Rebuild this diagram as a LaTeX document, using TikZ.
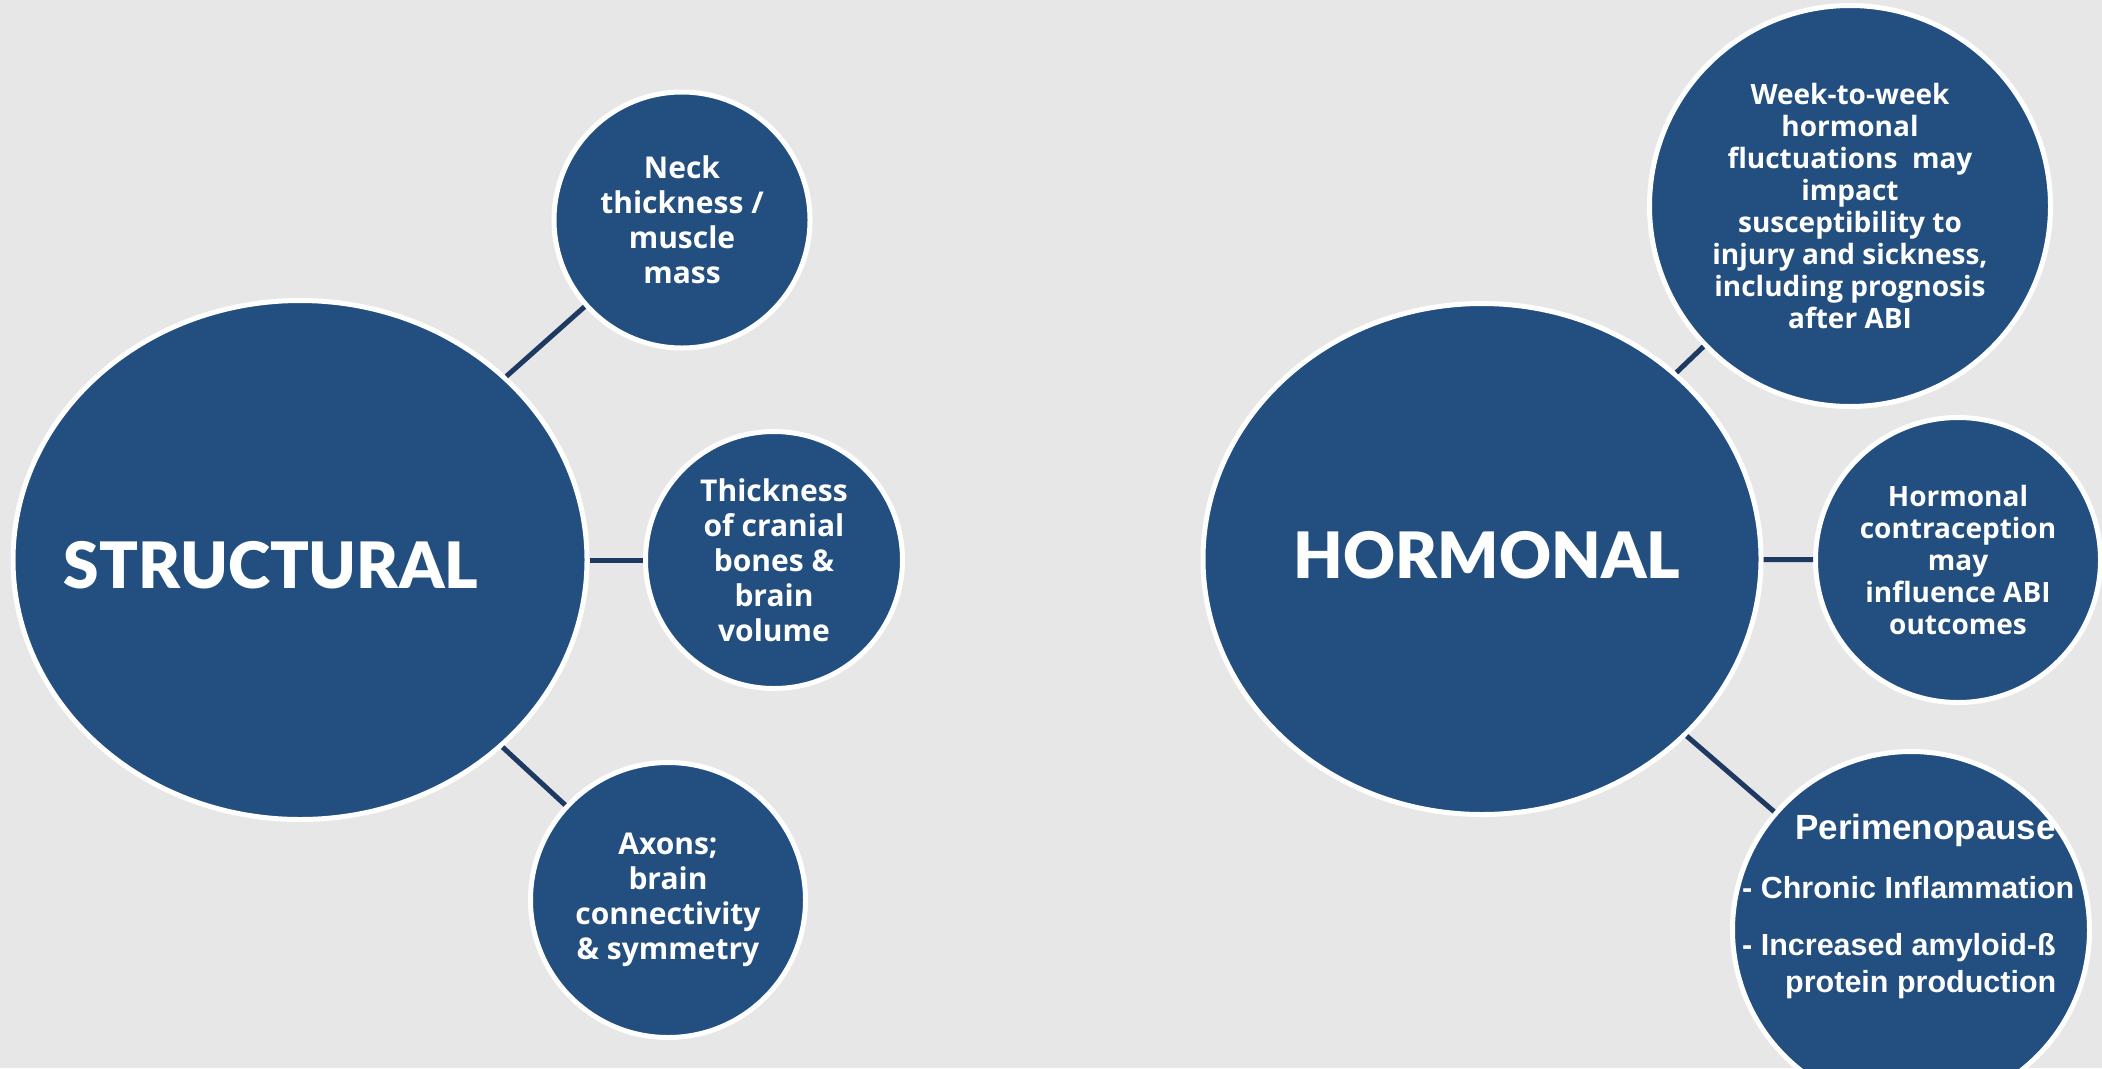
\documentclass[tikz,border=0pt]{standalone}
\usepackage{fontspec}
\setmainfont{Open Sans}
\newfontfamily\bodyfont{Open Sans}
\newfontfamily\titlefont{Lato Black}
\newfontfamily\arialfont{Liberation Sans}
\usetikzlibrary{shapes.geometric}
\definecolor{bg}{HTML}{E7E7E7}
\definecolor{navy}{HTML}{234F80}
\definecolor{linkc}{HTML}{1F3A62}
\tikzset{
  bigshape/.style={ellipse, fill=navy, draw=white, line width=5bp, inner sep=0pt},
  bubble/.style={circle, fill=navy, draw=white, line width=5bp, inner sep=0pt,
    text=white, align=center},
  leftbody/.style={font=\bodyfont\bfseries\fontsize{30bp}{35bp}\selectfont},
  rightbody/.style={font=\bodyfont\bfseries\fontsize{28bp}{32bp}\selectfont},
  title/.style={text=white, inner sep=0pt, anchor=base,
    font=\titlefont\fontsize{64bp}{70bp}\selectfont},
  peritext/.style={text=white, inner sep=0pt, anchor=base west},
  link/.style={draw=linkc, line width=5bp},
}
\begin{document}
\begin{tikzpicture}[x=1bp, y=-1bp]
\fill[bg] (0,0) rectangle (2102,1068);
\useasboundingbox (0,0) rectangle (2102,1068);
\clip (0,0) rectangle (2102,1068);

% big shapes
\node[bigshape, minimum width=574bp, minimum height=519bp] (structural) at (300,560) {};
\node[bigshape, minimum width=558bp, minimum height=511bp] (hormonal) at (1482,559) {};

% left bubbles
\node[bubble, leftbody, minimum size=256bp] (neck) at (682,220)
  {Neck\\thickness /\\muscle\\mass};
\node[bubble, leftbody, minimum size=257bp] (cranial) at (774,560)
  {Thickness\\of cranial\\bones \&\\brain\\volume};
\node[bubble, leftbody, minimum size=275bp] (axons) at (668,900)
  {Axons;\\brain\\connectivity\\\& symmetry};

% right bubbles
\node[bubble, rightbody, minimum size=401bp] (week) at (1850,206)
  {Week-to-week\\hormonal\\fluctuations\ \ may\\impact\\susceptibility to\\injury and sickness,\\including prognosis\\after ABI};
\node[bubble, rightbody, minimum size=285bp] (contra) at (1958,560)
  {Hormonal\\contraception\\may\\influence ABI\\outcomes};
\node[bubble, minimum size=357bp] (peri) at (1911,930) {};

% titles
\node[title] (structuraltitle) at (271,588) {STRUCTURAL};
\node[title] (hormonaltitle) at (1487,578) {HORMONAL};

% perimenopause text
\node[peritext, font=\arialfont\bfseries\fontsize{35bp}{40bp}\selectfont] (peri1) at (1795,839) {Perimenopause};
\node[peritext, font=\arialfont\bfseries\fontsize{30.5bp}{37bp}\selectfont] (peri2) at (1742,898) {- Chronic Inflammation};
\node[peritext, font=\arialfont\bfseries\fontsize{30.5bp}{37bp}\selectfont] (peri3) at (1742,955) {- Increased amyloid-ß};
\node[peritext, font=\arialfont\bfseries\fontsize{30.5bp}{37bp}\selectfont] (peri4) at (1785,992) {protein production};

% connectors
\draw[link] (structural) -- (neck);
\draw[link] (structural) -- (cranial);
\draw[link] (structural) -- (axons);
\draw[link] (hormonal) -- (week);
\draw[link] (hormonal) -- (contra);
\draw[link] (hormonal) -- (peri);
\end{tikzpicture}
\end{document}
